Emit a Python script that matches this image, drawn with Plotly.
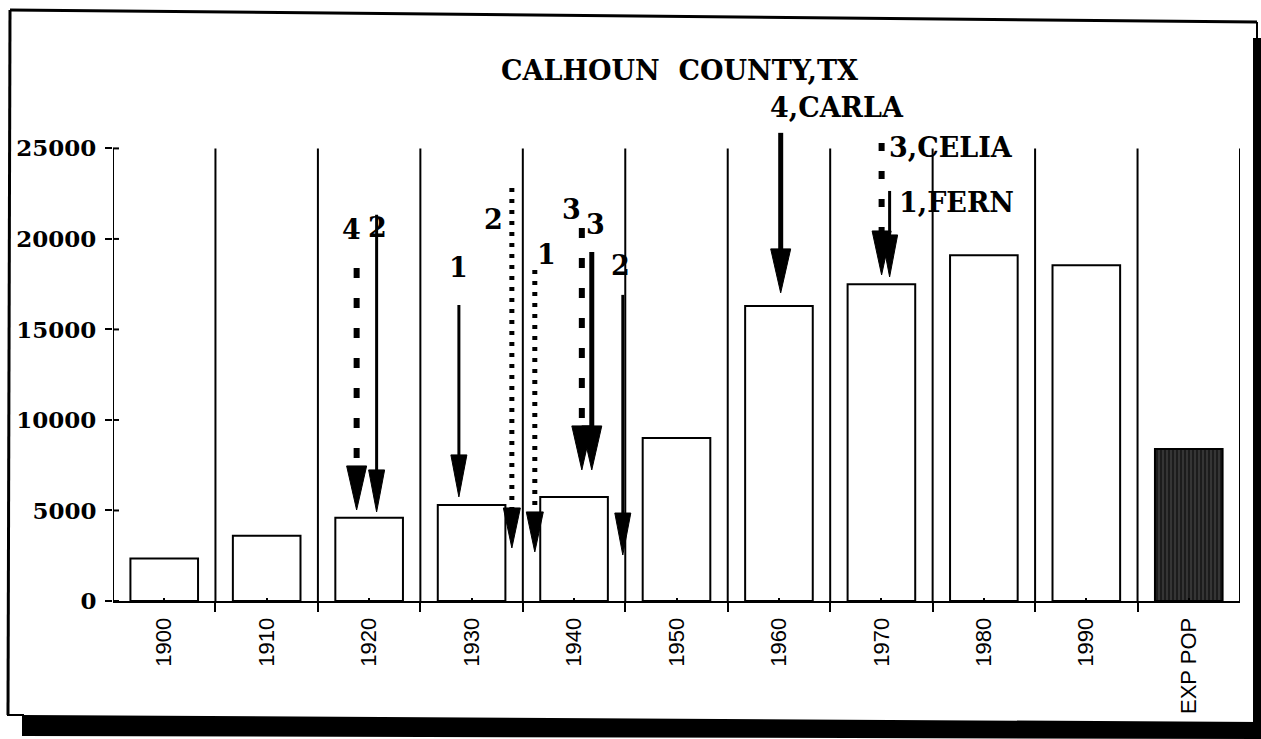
import plotly.graph_objects as go

# ---------------- data ----------------
categories = ["1900", "1910", "1920", "1930", "1940", "1950", "1960", "1970", "1980", "1990", "EXP POP"]
population = [2350, 3600, 4600, 5300, 5750, 9000, 16300, 17500, 19100, 18550]
exp_pop = [8400]
y_ticks = [0, 5000, 10000, 15000, 20000, 25000]

# hurricane arrows (x in category units, top of shaft, tip of head)
hurr_x     = [1.878, 2.073, 2.876, 3.393, 3.617, 4.076, 4.173, 4.476, 6.017, 7.002, 7.080]
hurr_top   = [18400, 21330, 16350, 22820, 18290, 20610, 19280, 16910, 25860, 25300, 22650]
hurr_tip   = [5030, 4920, 5750, 2930, 2710, 7240, 7240, 2540, 17020, 18010, 17900]
hurr_style = ["dash", "solid", "solid", "dot", "dot", "dash", "thick", "solid", "thick", "dash2", "solid"]
hurr_label = ["4", "2", "1", "2", "1", "3", "3", "2", "4,CARLA", "3,CELIA", "1,FERN"]
label_x    = [1.831, 2.085, 2.876, 3.217, 3.734, 3.978, 4.212, 4.456, 5.890, 7.050, 7.148]
label_y    = [20500, 20610, 18400, 21050, 19120, 21600, 20770, 18560, 27240, 25030, 22040]
label_anchor = ["center"] * 8 + ["left", "left", "left"]

# ---------------- geometry helpers ----------------
PX_X = 1127 / 11.0            # pixels per category unit
PLOT_H = 525
Y_MAX = 29000
PX_Y = PLOT_H / Y_MAX         # pixels per data unit (y)

style_line = {
    "solid": dict(width=3, dash="solid"),
    "thick": dict(width=5, dash="solid"),
    "dash": dict(width=6, dash="10px,20px"),
    "dash2": dict(width=6, dash="8px,20px"),
    "dot": dict(width=5, dash="4px,7px"),
}
head_px = {"solid": (16, 42), "thick": (20, 44), "dash": (20, 44), "dash2": (19, 44), "dot": (17, 40)}

shapes = []

# category separators
for i in range(1, 12):
    shapes.append(dict(type="line", xref="x", yref="y", x0=i - 0.5, x1=i - 0.5, y0=0, y1=25000,
                       line=dict(color="black", width=2), layer="below"))
# y axis line and crossing ticks
shapes.append(dict(type="line", xref="x", yref="y", x0=-0.5, x1=-0.5, y0=0, y1=25000,
                   line=dict(color="black", width=2)))
for t in y_ticks:
    shapes.append(dict(type="line", xref="x", yref="y", x0=-0.5, x1=-0.5 + 6 / PX_X, y0=t, y1=t,
                       line=dict(color="black", width=2)))

# arrows
for x, top, tip, st in zip(hurr_x, hurr_top, hurr_tip, hurr_style):
    hw, hl = head_px[st]
    base = tip + hl / PX_Y
    lw = style_line[st]
    shapes.append(dict(type="line", xref="x", yref="y", x0=x, x1=x, y0=top, y1=base - 2 / PX_Y,
                       line=dict(color="black", width=lw["width"], dash=lw["dash"])))
    dx = hw / 2 / PX_X
    path = f"M {x - dx} {base} L {x + dx} {base} L {x} {tip} Z"
    shapes.append(dict(type="path", xref="x", yref="y", path=path,
                       fillcolor="black", line=dict(color="black", width=1)))

# scanned page frame
def px(xp):
    return (xp - 113) / 1127.0

def py(yp):
    return (601 - yp) / PLOT_H

shapes.append(dict(type="line", xref="paper", yref="paper", x0=px(10), y0=py(10), x1=px(1257), y1=py(22),
                   line=dict(color="black", width=3)))
shapes.append(dict(type="line", xref="paper", yref="paper", x0=px(10), y0=py(10), x1=px(8), y1=py(715),
                   line=dict(color="black", width=3)))
shapes.append(dict(type="line", xref="paper", yref="paper", x0=px(7), y0=py(715), x1=px(24), y1=py(715),
                   line=dict(color="black", width=2)))
shapes.append(dict(type="line", xref="paper", yref="paper", x0=px(1257), y0=py(22), x1=px(1257), y1=py(40),
                   line=dict(color="black", width=2)))
shapes.append(dict(type="path", xref="paper", yref="paper",
                   path=f"M {px(22)} {py(715)} L {px(1261)} {py(722)} L {px(1261)} {py(739)} L {px(22)} {py(736)} Z",
                   fillcolor="black", line=dict(width=0)))
shapes.append(dict(type="rect", xref="paper", yref="paper", x0=px(1253), x1=px(1262), y0=py(739), y1=py(38),
                   fillcolor="black", line=dict(width=0)))

# ---------------- figure ----------------
fig = go.Figure()
fig.add_trace(go.Bar(x=list(range(len(population))), y=population, width=0.66,
                     marker=dict(color="white", line=dict(color="black", width=2)),
                     showlegend=False))
fig.add_trace(go.Bar(x=[10], y=exp_pop, width=0.66,
                     marker=dict(color="#1c1c1c", line=dict(color="black", width=2),
                                 pattern=dict(shape="|", fgcolor="#9a9a9a", size=4, solidity=0.2)),
                     showlegend=False))

annotations = [dict(text="CALHOUN\u00a0 COUNTY,TX", xref="paper", yref="paper", x=px(679), y=py(70),
                    xanchor="center", yanchor="middle", showarrow=False,
                    font=dict(family="DejaVu Serif", size=27, color="black", weight="bold"))]
for lx, ly, lt, la in zip(label_x, label_y, hurr_label, label_anchor):
    annotations.append(dict(text=lt, x=lx, y=ly, xref="x", yref="y", xanchor=la, yanchor="middle",
                            showarrow=False,
                            font=dict(family="DejaVu Serif", size=27, color="black", weight="bold")))

fig.update_layout(
    width=1261, height=739,
    margin=dict(l=113, r=21, t=76, b=138),
    paper_bgcolor="white", plot_bgcolor="white",
    bargap=0.34,
    shapes=shapes,
    annotations=annotations,
    xaxis=dict(range=[-0.5, 10.5], tickmode="array", tickvals=list(range(11)), ticktext=categories,
               tickangle=-90, ticks="inside", ticklen=3, tickwidth=2, tickcolor="black",
               tickfont=dict(family="Liberation Sans", size=22, color="black"),
               ticklabelstandoff=6,
               showline=True, linecolor="black", linewidth=2, showgrid=False, zeroline=False,
               minor=dict(tickvals=[i - 0.5 for i in range(12)], ticks="outside", ticklen=9,
                          tickwidth=2, tickcolor="black", showgrid=False)),
    yaxis=dict(range=[0, Y_MAX], tickmode="array", tickvals=y_ticks, ticktext=[str(v) for v in y_ticks],
               ticks="outside", ticklen=7, tickwidth=2, tickcolor="black",
               tickfont=dict(family="DejaVu Serif", size=23, color="black", weight="bold"),
               ticklabelstandoff=4,
               showline=False, showgrid=False, zeroline=False),
)

fig.write_html("out.html", config={"displayModeBar": False},
               post_script="document.body.style.margin='0px';document.body.style.overflow='hidden';")
